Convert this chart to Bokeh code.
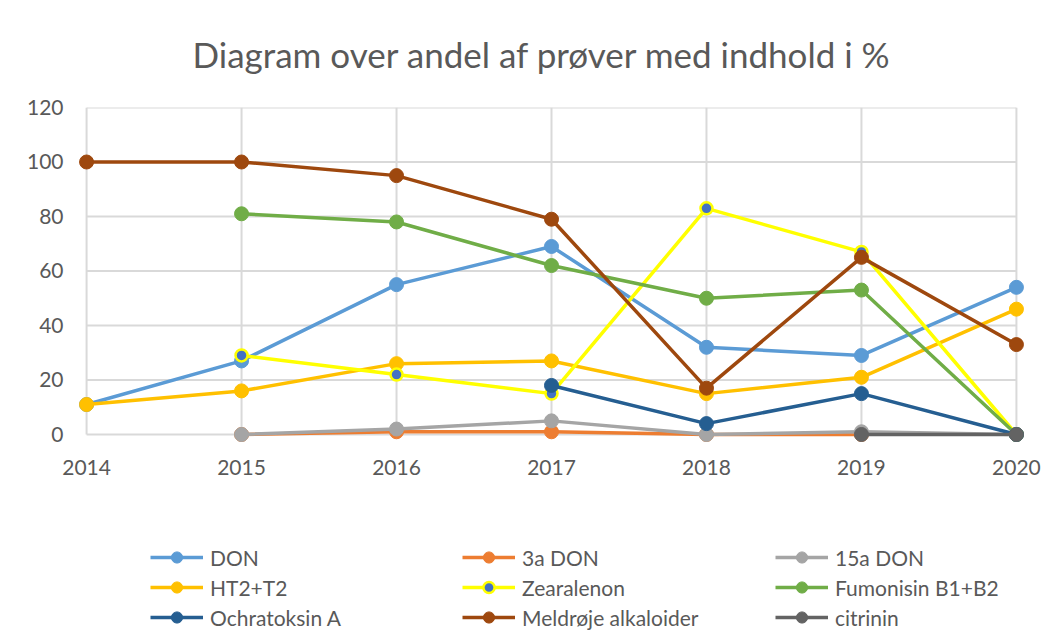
import numpy as np
from bokeh.plotting import figure
from bokeh.layouts import column
from bokeh.models import Range1d, FixedTicker, Legend, LegendItem
from bokeh.embed import file_html
from bokeh.resources import INLINE

nan = np.nan
years = [2014, 2015, 2016, 2017, 2018, 2019, 2020]
yticks = [0, 20, 40, 60, 80, 100, 120]

don = [11, 27, 55, 69, 32, 29, 54]
don3a = [nan, 0, 1, 1, 0, 0, nan]
don15a = [nan, 0, 2, 5, 0, 1, 0]
ht2 = [11, 16, 26, 27, 15, 21, 46]
zearalenon = [nan, 29, 22, 15, 83, 67, 0]
fumonisin = [nan, 81, 78, 62, 50, 53, 0]
ochratoksin = [nan, nan, nan, 18, 4, 15, 0]
meldroje = [100, 100, 95, 79, 17, 65, 33]
citrinin = [nan, nan, nan, nan, nan, 0, 0]

series = [
    ("DON", don, "#5B9BD5", "#5B9BD5", "#5B9BD5"),
    ("3a DON", don3a, "#ED7D31", "#ED7D31", "#ED7D31"),
    ("15a DON", don15a, "#A5A5A5", "#A5A5A5", "#A5A5A5"),
    ("HT2+T2", ht2, "#FFC000", "#FFC000", "#FFC000"),
    ("Zearalenon", zearalenon, "#FFFF00", "#4472C4", "#FFFF00"),
    ("Fumonisin B1+B2", fumonisin, "#70AD47", "#70AD47", "#70AD47"),
    ("Ochratoksin A", ochratoksin, "#255E91", "#255E91", "#255E91"),
    ("Meldrøje alkaloider", meldroje, "#9E480E", "#9E480E", "#9E480E"),
    ("citrinin", citrinin, "#636363", "#636363", "#636363"),
]

FONT = "Lato"
TXT = "#595959"
GRID = "#d9d9d9"

p = figure(width=1049, height=500, output_backend="svg", toolbar_location=None,
           x_range=Range1d(2013.935, 2020.065), y_range=Range1d(-3.67, 120),
           min_border_left=76, min_border_right=23, min_border_top=107,
           min_border_bottom=56)
p.outline_line_color = None
p.xgrid.visible = False
p.ygrid.visible = False

p.title.text = "Diagram over andel af prøver med indhold i %"
p.title.text_font = FONT
p.title.text_font_size = "35px"
p.title.text_font_style = "normal"
p.title.text_color = TXT
p.title.align = "left"
p.title.offset = 116
p.title.vertical_align = "top"
p.title.standoff = 62

for ax in (p.xaxis[0], p.yaxis[0]):
    ax.axis_line_color = None
    ax.major_tick_line_color = None
    ax.minor_tick_line_color = None
    ax.major_label_text_font = FONT
    ax.major_label_text_font_size = "21px"
    ax.major_label_text_color = TXT
p.xaxis.ticker = FixedTicker(ticks=years)
p.yaxis.ticker = FixedTicker(ticks=yticks)
p.xaxis.major_label_standoff = 9
p.yaxis.major_label_standoff = 7

# gridlines (from tick lists)
p.segment(x0=[years[0]] * len(yticks), x1=[years[-1]] * len(yticks), y0=yticks, y1=yticks,
          line_color=GRID, line_width=2)
p.segment(x0=years, x1=years, y0=[yticks[0]] * len(years), y1=[yticks[-1]] * len(years),
          line_color=GRID, line_width=2)

# legend-only figure below the chart (its renderers lie outside its visible range)
q = figure(width=1049, height=132, output_backend="svg", toolbar_location=None,
           x_range=Range1d(0, 1), y_range=Range1d(0, 1),
           min_border_left=0, min_border_right=0, min_border_top=0, min_border_bottom=0)
q.axis.visible = False
q.grid.visible = False
q.outline_line_color = None

items = []
for name, vals, lc, fc, oc in series:
    ln = p.line(years, vals, line_color=lc, line_width=3.5)
    if name == "Zearalenon":
        kw = dict(size=12, fill_color=fc, line_color=oc, line_width=2.5)
    else:
        kw = dict(size=14, fill_color=fc, line_color=oc, line_width=1)
    p.scatter(years, vals, **kw)
    lq = q.line(years, vals, line_color=lc, line_width=3.5)
    sq = q.scatter(years, vals, **kw)
    items.append(LegendItem(label=name, renderers=[lq, sq]))

cols = [[items[0], items[3], items[6]],
        [items[1], items[4], items[7]],
        [items[2], items[5], items[8]]]
xs = [150 - 76, 462 - 76, 775 - 76]
for its, x in zip(cols, xs):
    lg = Legend(items=its, location=(x, 1), orientation="vertical",
                glyph_width=53, glyph_height=28, label_height=28, spacing=2,
                label_standoff=7, padding=0, margin=0,
                label_text_font=FONT, label_text_font_size="21px",
                label_text_color=TXT, border_line_color=None,
                background_fill_alpha=0)
    q.add_layout(lg, "center")

layout = column(p, q, spacing=0)
open("out.html", "w").write(file_html(layout, INLINE))
